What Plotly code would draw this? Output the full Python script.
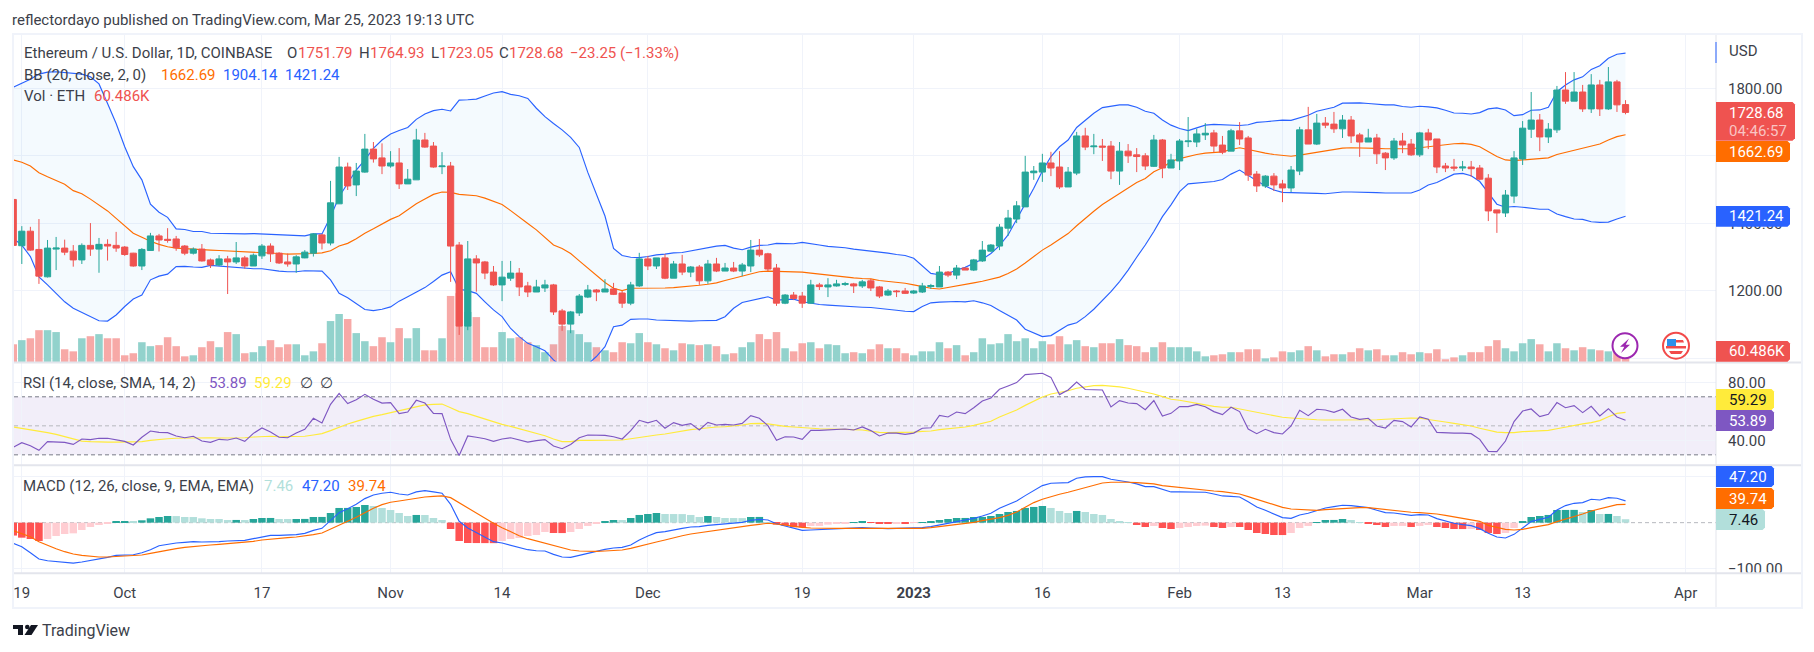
import pandas as pd
import plotly.graph_objects as go

# ---- daily bars, 18 Sep 2022 to 25 Mar 2023 ----
open_px = [
    1471,1334,1377,1323,1242,1324,1327,1318,1292,1335,1324,1338,1335,
    1330,1312,1274,1320,1363,1353,1354,1333,1312,1324,1292,1277,1295,1286,1298,1274,1304,1333,1312,1286,1280,1298,1312,1366,1342,1458,1567,1514,1552,1620,1594,
    1570,1579,1517,1529,1647,1629,1568,1570,1336,1096,1295,1286,1256,1218,1238,1253,1215,1197,1209,1218,1141,1102,1135,1182,1203,1197,1206,1194,1164,1215,
    1295,1274,1298,1238,1280,1256,1271,1230,1280,1259,1268,1259,1274,1321,1310,1268,1164,1188,1185,1164,1218,1212,1215,1219,1221,1215,1230,1212,1188,1200,1200,
    1194,1197,1213,1212,1256,1247,1268,1262,1289,1318,1333,1386,1413,1449,1550,1552,1579,1567,1508,1549,1659,1627,1629,1629,1555,1614,1603,1600,1569,1647,1564,
    1585,1642,1641,1662,1668,1632,1614,1674,1653,1546,1511,1540,1517,1505,1555,1677,1635,1697,1694,1680,1706,1662,1641,1653,1608,1594,1644,1635,
    1603,1668,1650,1570,1567,1564,1567,1564,1534,1440,1431,1481,1591,1679,1706,1656,1677,1795,1762,1789,1739,1810,1739,1819,1751.79]
high_px = [
    1471,1392,1390,1413,1351,1360,1352,1336,1341,1401,1357,1353,1375,
    1333,1313,1327,1372,1369,1386,1363,1336,1329,1339,1296,1306,1304,1345,1304,1311,1339,1341,1315,1311,1306,1321,1371,1369,1526,1597,1580,1579,1665,1641,1637,
    1614,1623,1561,1680,1668,1641,1611,1582,1345,1348,1306,1289,1274,1289,1289,1268,1227,1233,1233,1221,1147,1141,1191,1218,1206,1235,1224,1200,1227,1313,
    1304,1298,1309,1289,1307,1274,1277,1292,1298,1283,1286,1283,1351,1354,1313,1280,1191,1197,1197,1233,1224,1238,1233,1227,1224,1233,1236,1215,1206,1203,1209,
    1203,1224,1221,1274,1259,1277,1269,1295,1348,1339,1398,1440,1466,1600,1570,1606,1612,1614,1567,1671,1683,1665,1650,1644,1641,1635,1623,1608,1662,1650,1606,
    1650,1715,1680,1697,1677,1659,1680,1700,1659,1555,1543,1549,1529,1570,1686,1745,1724,1715,1730,1721,1718,1668,1680,1665,1611,1653,1668,1650,
    1671,1680,1650,1579,1591,1585,1585,1573,1546,1440,1499,1614,1703,1789,1724,1697,1807,1848,1848,1810,1842,1825,1863,1825,1764.93]
low_px = [
    1329,1280,1319,1221,1240,1262,1306,1272,1280,1304,1254,1290,1316,
    1304,1272,1262,1319,1317,1343,1319,1306,1308,1287,1268,1274,1191,1280,1266,1274,1295,1286,1280,1272,1254,1297,1302,1323,1335,1458,1499,1481,1550,1580,1546,
    1565,1502,1517,1529,1624,1565,1546,1227,1070,1084,1198,1235,1215,1170,1230,1185,1182,1197,1197,1129,1082,1075,1126,1179,1170,1197,1188,1150,1158,1212,
    1262,1265,1235,1238,1247,1241,1218,1221,1256,1259,1256,1244,1256,1301,1259,1156,1161,1173,1150,1163,1203,1182,1213,1215,1194,1209,1200,1179,1185,1182,1191,
    1191,1194,1206,1212,1241,1235,1262,1259,1286,1315,1321,1363,1401,1449,1529,1523,1540,1502,1508,1543,1617,1605,1585,1531,1514,1579,1552,1558,1567,1534,1564,
    1558,1626,1626,1647,1611,1605,1614,1632,1526,1493,1505,1496,1463,1493,1543,1635,1632,1682,1668,1653,1638,1597,1641,1576,1558,1588,1608,1600,
    1597,1620,1549,1552,1555,1555,1538,1528,1407,1372,1419,1460,1573,1653,1614,1638,1668,1754,1762,1730,1727,1718,1736,1730,1723.05]
close_px = [
    1335,1377,1321,1244,1327,1327,1315,1292,1335,1324,1338,1333,1327,
    1308,1274,1323,1363,1351,1350,1328,1312,1324,1289,1277,1295,1286,1298,1274,1306,1333,1310,1283,1280,1301,1315,1369,1342,1461,1567,1511,1555,1620,1591,1570,
    1579,1517,1531,1647,1626,1567,1570,1333,1096,1295,1283,1253,1218,1241,1253,1212,1197,1212,1218,1138,1102,1138,1185,1203,1197,1206,1190,1164,1218,1295,
    1274,1298,1238,1280,1256,1271,1230,1280,1259,1268,1259,1277,1321,1307,1265,1164,1188,1178,1164,1218,1213,1218,1221,1222,1215,1227,1209,1185,1200,1198,1193,
    1200,1215,1216,1256,1247,1268,1262,1292,1321,1336,1389,1416,1452,1552,1555,1579,1564,1508,1552,1659,1626,1629,1626,1555,1614,1600,1598,1570,1647,1564,1588,
    1644,1644,1665,1667,1629,1611,1674,1650,1543,1511,1540,1514,1505,1558,1677,1635,1697,1691,1680,1706,1659,1641,1653,1606,1594,1644,1632,1603,
    1668,1647,1567,1564,1564,1567,1562,1531,1437,1431,1484,1594,1682,1706,1656,1679,1795,1762,1789,1739,1810,1739,1819,1751,1728.68]
volume_k = [
    103,127,138,185,185,174,74,62,138,150,162,138,138,
    39,51,115,92,98,144,92,33,39,86,121,86,174,162,51,57,92,127,86,103,103,39,62,109,238,279,250,168,121,92,144,
    115,197,138,197,68,68,138,384,400,291,261,86,86,174,138,144,115,98,57,103,209,185,162,115,86,68,57,115,109,168,
    115,103,80,68,109,103,98,103,92,45,51,86,115,162,133,174,80,62,109,115,80,103,98,51,57,51,74,103,80,80,51,
    39,62,62,115,80,98,39,57,138,103,109,162,121,138,80,121,103,150,103,127,92,86,109,109,133,98,92,57,86,115,86,
    86,86,62,33,39,45,57,57,74,74,21,27,62,57,68,92,68,33,45,45,57,80,68,74,39,39,57,45,
    57,51,74,16,27,39,57,57,92,127,80,62,109,133,103,62,109,80,68,86,74,68,62,57,60.486]

# ---- Bollinger Bands (20, 2) ----
bb_upper = [
    1803,1815,1827,1842,1848,1849,1847,1844,1842,1834,1813,1755,1696,
    1627,1568,1529,1457,1433,1418,1384,1382,1376,1376,1371,1370,1370,1369,1369,1370,1369,1367,1365,1364,1363,1363,1369,1369,1420,1479,1519,1558,1588,1622,1647,
    1665,1675,1684,1708,1724,1734,1738,1733,1765,1766,1768,1777,1786,1790,1782,1778,1770,1741,1716,1696,1677,1655,1625,1551,1484,1422,1326,1305,1300,1299,
    1302,1307,1309,1313,1314,1319,1322,1329,1333,1335,1327,1322,1330,1335,1336,1341,1341,1340,1344,1341,1336,1332,1331,1328,1324,1321,1320,1315,1312,1308,1305,
    1297,1275,1252,1248,1252,1262,1270,1282,1294,1311,1334,1366,1412,1459,1504,1555,1598,1627,1647,1684,1706,1726,1743,1746,1751,1751,1744,1732,1726,1706,1691,
    1681,1675,1683,1691,1693,1692,1691,1690,1692,1699,1701,1704,1706,1705,1713,1720,1732,1737,1744,1756,1757,1757,1755,1752,1751,1751,1746,1744,
    1747,1745,1742,1735,1727,1726,1724,1728,1739,1742,1736,1719,1722,1735,1736,1744,1790,1810,1825,1834,1856,1867,1889,1901,1904.14]
bb_lower = [
    1356,1336,1302,1242,1218,1193,1168,1149,1136,1124,1112,1111,1129,
    1154,1176,1188,1233,1244,1250,1272,1273,1271,1270,1276,1274,1272,1269,1266,1266,1266,1262,1259,1257,1257,1260,1259,1259,1233,1193,1180,1163,1145,1142,1146,
    1153,1170,1183,1196,1210,1228,1247,1257,1205,1201,1193,1168,1144,1124,1089,1065,1045,1035,1023,996,975,967,953,983,1006,1035,1094,1099,1116,1117,
    1117,1114,1113,1112,1111,1111,1112,1112,1113,1124,1149,1166,1172,1178,1183,1173,1175,1176,1168,1163,1160,1158,1156,1155,1153,1152,1151,1149,1146,1143,1140,
    1139,1154,1165,1167,1169,1169,1168,1171,1165,1157,1142,1129,1114,1087,1075,1065,1068,1084,1099,1106,1124,1146,1171,1198,1228,1262,1300,1336,1376,1420,1455,
    1494,1517,1519,1521,1524,1530,1546,1558,1543,1527,1511,1499,1492,1491,1491,1491,1489,1488,1491,1493,1493,1493,1492,1491,1490,1490,1490,1490,
    1499,1514,1521,1533,1546,1548,1541,1524,1489,1457,1448,1450,1448,1444,1442,1442,1428,1420,1413,1412,1405,1403,1404,1413,1421.24]
bb_basis = [
    1588,1581,1570,1550,1538,1528,1516,1497,1488,1472,1454,1437,1415,
    1392,1371,1359,1347,1338,1331,1327,1325,1323,1322,1321,1320,1319,1318,1317,1316,1314,1312,1311,1309,1309,1310,1311,1313,1319,1333,1341,1355,1371,1384,1398,
    1412,1423,1440,1458,1472,1486,1493,1492,1486,1485,1482,1475,1466,1456,1438,1418,1400,1381,1359,1336,1326,1311,1289,1267,1245,1225,1208,1201,1208,1208,
    1207,1208,1209,1210,1212,1213,1217,1220,1224,1231,1237,1244,1251,1257,1259,1258,1258,1258,1256,1253,1250,1246,1244,1242,1239,1237,1236,1231,1229,1226,1223,
    1218,1213,1208,1206,1210,1214,1219,1224,1229,1234,1241,1252,1265,1283,1301,1321,1336,1354,1370,1393,1415,1436,1456,1472,1489,1506,1521,1533,1553,1565,1583,
    1592,1599,1604,1608,1610,1612,1619,1624,1619,1613,1608,1604,1601,1599,1602,1606,1610,1613,1618,1623,1624,1624,1623,1622,1621,1620,1621,1621,
    1624,1629,1632,1634,1636,1637,1634,1627,1612,1598,1588,1586,1588,1590,1591,1594,1604,1610,1617,1622,1629,1635,1647,1657,1662.69]

# ---- RSI (14) with its moving average ----
rsi = [
    35.2,38.4,36.3,33.1,39.1,39.1,38.6,37.2,40.9,40.5,41.4,41.4,40.5,
    39.3,36.8,42.1,46.4,45.5,45.3,43,41.8,42.8,39.5,38.6,40.7,40.2,41.6,39.3,44.8,48.5,45.7,42.1,41.8,45,47.6,55.2,52,64.8,72.4,65.3,68,71.7,68.3,65.7,
    66,58.4,59.5,67.6,65.7,58.6,58.4,40.7,29.6,43,42.1,41.1,39.3,40.9,41.8,40.2,38.8,39.8,40.5,36.1,34.2,37.2,41.8,43.7,43.4,43.4,42.5,40.9,46.7,53.8,
    52,53.8,48.3,52.2,50.3,51.5,47.1,52.4,50.6,51,50.6,51.7,57,55.2,50.1,40,42.5,42.3,40.7,46.9,46.9,47.3,47.8,47.8,47.1,49.2,46.7,43,45,45,44.1,
    45,48.3,48.7,57.2,56.1,59.5,58.4,62.5,67.1,69.2,75.2,77.5,79.8,85.3,85.5,86.2,83.4,71.5,74.7,80.2,75,75,74.7,63,67.4,65.7,65.3,61.1,67.4,56.8,58.6,
    63.2,63.2,64.8,63.2,59.8,57.7,62.8,59.8,47.8,44.6,47.6,45.3,44.4,49.9,60.7,57,61.4,60.9,59.3,61.4,56.1,54.5,55.2,49.9,48.5,53.8,52.9,49.2,
    56.1,54.5,45.5,45,45,45,44.6,40.7,32.4,32.2,39.5,52.9,60.2,61.6,56.3,57.9,66,62.5,63.9,59.1,63.4,56.8,61.8,56.1,53.89]
rsi_ma = [
    49.2,48.3,47.4,46.2,45.3,44.1,42.5,40.7,39.5,39.1,38.8,38.8,38.8,
    38.8,38.6,39.1,40,40.7,41.1,41.4,41.6,41.8,41.8,41.8,41.6,41.6,41.6,41.8,42.3,42.8,42.8,42.5,42.5,42.5,42.8,43.7,44.6,46.7,49.2,51.3,53.1,54.9,56.5,57.7,
    59.1,60.5,61.6,63.2,64.4,64.8,65,62.5,59.8,58.4,56.5,54.5,52.6,51,49.6,48,46.4,44.8,43.2,40.9,39.1,39.1,40,40,40,40.2,40.2,40.2,41.1,42.1,
    42.8,43.7,44.4,45.5,46.4,47.4,48,48.7,49.2,49.4,49.9,50.6,51.5,51.7,51.3,50.3,49.6,49.2,48.7,48.3,48,47.8,47.8,47.6,47.4,47.1,46.2,45.5,45.3,45.3,45.3,
    45.7,46.2,46.4,47.4,48,48.5,49.2,50.3,51.5,53.1,56.1,58.4,60.9,64.1,66.9,69.9,71.9,72.9,74.2,75.9,77,77.7,77.9,77.5,76.8,75.9,74.7,73.3,71.9,70.1,68.3,
    67.6,66.7,65.5,64.4,63.4,62.8,62.8,61.6,60.5,59.3,58.2,56.8,55.9,55.4,54.9,54.5,54.2,54,54,54,54,53.8,54,54.2,54.5,54.9,55.4,55.4,
    55.2,54.5,53.6,52.6,51.7,50.8,49.9,48.3,47.1,45.7,45.3,45.3,46,46.4,46.7,46.9,48,49.2,50.3,51.3,52.2,53.6,56.3,58.6,59.29]

# ---- MACD (12, 26, 9) ----
macd_line = [
    -44.9,-52.2,-65.2,-79,-82.6,-84.1,-85.5,-87.7,-85.5,-82.6,-79,-75.4,-71,
    -69.6,-69.6,-65.2,-58.7,-50,-46.4,-44.2,-42.8,-41.3,-42,-42,-41.3,-39.9,-38.4,-38.4,-34.8,-30.4,-27.5,-27.5,-27.5,-26.1,-23.2,-16.7,-12.3,5.8,21.7,30.4,39.9,52.2,60.1,63.8,
    65.9,62.3,60.1,66.7,69.6,66.7,63.8,39.9,2.9,-11.6,-21.7,-30.4,-41.3,-44.2,-48.5,-53.6,-58.7,-60.9,-61.6,-68.8,-74.6,-75.4,-71,-65.9,-61.6,-58,-55.1,-53.6,-48.5,-37.7,
    -29,-21.7,-19.6,-15.2,-12.3,-9.4,-8.7,-5.8,-4.3,-2.9,-2.2,0.7,5.1,7.2,5.8,-2.2,-7.2,-11.6,-16.7,-15.9,-15.2,-13.8,-12.3,-11.6,-10.9,-10.9,-11.6,-13,-13,-12.3,-12.3,
    -12.3,-10.9,-8.7,-5.1,-0.7,2.9,5.1,9.4,14.5,20.3,31.2,38.4,47.1,58.7,69.6,80.4,85.5,85.5,87,96.4,99.3,100,100,94.2,92,88.4,84.1,78.3,78.3,71.7,66.7,
    66.7,66.7,66.7,65.9,62.3,58,57.2,55.8,45.6,34.1,26.8,18.8,10.9,9.4,16.7,20.3,25.4,31.9,34.8,37.7,37,34.8,32.6,26.8,21.7,21,18.8,15.9,
    17.4,16.7,8.7,3.6,-1.4,-4.3,-6.5,-13,-23.2,-31.2,-33.3,-25.4,-11.6,2.2,7.2,11.6,27.5,37,42,43.5,50.7,49.3,54.3,52.9,47.20]
macd_signal = [
    -17.4,-23.2,-30.4,-41.3,-49.3,-56.5,-63,-68.1,-71,-73.2,-74.6,-74.6,-73.9,
    -73.2,-72.5,-70.3,-66.7,-63,-59.4,-56.5,-53.6,-51.4,-50,-48.5,-47.1,-45.6,-44.2,-42.8,-40.6,-37.7,-35.5,-34.1,-32.6,-31.2,-29,-26.1,-22.5,-14.5,-6.5,2.9,11.6,21.7,31.2,39.1,
    44.2,47.1,50,53.6,55.8,57.2,58,54.3,42.8,31.9,20.3,9.4,-1.4,-10.9,-19.6,-28.3,-34.8,-39.9,-44.2,-50,-55.1,-59.4,-61.6,-62.3,-62.3,-61.6,-60.1,-59.4,-55.8,-50.7,
    -46.4,-42,-37.7,-32.6,-28.3,-24.6,-21.7,-18.8,-15.9,-13.8,-11.6,-8.7,-5.8,-3.6,-1.4,-2.9,-5.8,-8,-10.1,-11.6,-12.3,-13,-12.3,-12.3,-12.3,-12.3,-13,-13.8,-13.8,-13.8,-13.8,
    -13,-12.3,-10.9,-8.7,-6.5,-4.3,-2.2,0.7,4.3,7.2,10.9,15.9,23.2,33.3,43.5,50.7,56.5,61.6,65.9,71,76.8,81.9,86.2,87.7,88.4,87.7,87,85.5,84.1,80.4,78.3,
    76.1,74.6,72.5,71,68.8,67.4,65.2,62.3,56.5,50.7,44.9,39.1,33.3,29.7,28.3,26.8,26.8,28.3,29.7,30.4,31.9,32.6,32.6,30.4,28.3,26.1,23.9,22.5,
    21.7,21,18.8,15.9,13,10.1,7.2,2.9,-5.8,-10.9,-14.5,-15.9,-14.5,-10.9,-7.2,-4.3,2.2,7.2,13,18.8,25.4,29.7,34.8,39.1,39.74]
macd_hist = [
    -28,-32.6,-35.5,-39.9,-35.5,-29,-24.6,-23.2,-15.9,-9.4,-5.1,-1.4,2.9,
    3,2.8,5.1,9.4,12.3,14.5,14.3,12.3,12.2,9.4,8,7.9,5.8,5.9,5.7,8,10.1,10.2,8,7.9,8,8.1,12.3,12.4,21,31.9,32,34,38.4,36.2,31.9,
    27.5,21,14.5,16.7,16.6,10.1,5.8,-13.8,-39.9,-44.2,-44.3,-44.4,-44.5,-39.9,-35.5,-33.3,-29,-26.8,-20.3,-22.5,-22.6,-20.3,-13.8,-7.2,-2.9,2.9,5.8,5.7,10.1,16.7,
    18.8,21,18.8,18.7,18.6,16.7,12.3,14.5,12.3,10.1,10,9.9,12.3,12.4,1.4,-4.3,-6.5,-10.1,-10.2,-7.2,-7.1,-4.3,-2.2,-2.1,1.4,1.5,-0.7,-2.2,-2.3,-1,-2.2,
    -0.7,1.4,3.6,5.8,8,10.1,10.2,12.3,12.4,14.5,18.8,23.2,25.4,31.9,34.1,36.2,31.9,25.4,21,25.4,23.2,18.8,16.7,8,2.9,0.7,-5.1,-9.4,-7.2,-11.6,-13.8,
    -11.6,-9.4,-7.2,-6.5,-9.4,-11.6,-9.4,-9.5,-15.9,-22.5,-24.6,-26.8,-26.9,-22.5,-11.6,-7.2,1.4,5.8,5.9,8,5.8,0.7,-1.4,-5.1,-9.4,-7.2,-7.1,-9.4,
    -7.2,-5.1,-9.4,-11.6,-13.8,-13.9,-13.8,-15.9,-22.5,-24.6,-22.5,-11.6,3.6,12.3,14.5,16.7,27.5,27.6,27.7,23.2,27.5,18.8,18.9,14.5,7.46]

# ---- axis furniture ----
date_ticks = ["2022-09-19","2022-10-01","2022-10-17","2022-11-01","2022-11-14","2022-12-01","2022-12-19",
              "2023-01-01","2023-01-16","2023-02-01","2023-02-13","2023-03-01","2023-03-13","2023-04-01"]
date_labels = ["19","Oct","17","Nov","14","Dec","19","<b>2023</b>","16","Feb","13","Mar","13","Apr"]
price_ticks = [1000,1200,1400,1600,1800]
price_labels = ["","1200.00","1400.00","","1800.00"]
rsi_ticks = [40,80]
rsi_labels = ["40.00","80.00"]
macd_ticks = [-100,100]
macd_labels = ["\u2212100.00",""]

dates = pd.date_range("2022-09-18", "2023-03-25", freq="D")

W, H = 1814, 652
FONT = "Roboto"
INK = "#3c3f4a"
GRID = "#f0f3fa"
EDGE = "#e3e5ec"
UP, DOWN = "#26a69a", "#ef5350"
BLUE, ORANGE = "#2962ff", "#ff6d00"
PURPLE, YELLOW = "#7e57c2", "#ffeb3b"
LW = 1.15

def fx(px):
    return px / W

def fy(px):
    return 1 - px / H

x_range = ["2022-09-18 02:10", "2023-04-04 13:10"]
bar_ms = 7.5 / 8.576 * 86400000

fig = go.Figure()

vol_colors = ["#92d2cc" if c >= o else "#f7a9a7" for o, c in zip(open_px, close_px)]
fig.add_bar(x=dates, y=volume_k, width=bar_ms, marker_color=vol_colors, marker_line_width=0,
            xaxis="x", yaxis="y", hoverinfo="skip")

fig.add_scatter(x=dates, y=bb_upper, mode="lines", line=dict(color=BLUE, width=LW),
                xaxis="x", yaxis="y2", hoverinfo="skip")
fig.add_scatter(x=dates, y=bb_lower, mode="lines", line=dict(color=BLUE, width=LW),
                fill="tonexty", fillcolor="rgba(33,150,243,0.05)",
                xaxis="x", yaxis="y2", hoverinfo="skip")
fig.add_scatter(x=dates, y=bb_basis, mode="lines", line=dict(color=ORANGE, width=LW),
                xaxis="x", yaxis="y2", hoverinfo="skip")

fig.add_candlestick(x=dates, open=open_px, high=high_px, low=low_px, close=close_px,
                    whiskerwidth=0,
                    increasing=dict(line=dict(color=UP, width=1), fillcolor=UP),
                    decreasing=dict(line=dict(color=DOWN, width=1), fillcolor=DOWN),
                    xaxis="x", yaxis="y3", hoverinfo="skip")

fig.add_scatter(x=dates, y=rsi_ma, mode="lines", line=dict(color=YELLOW, width=LW),
                xaxis="x2", yaxis="y4", hoverinfo="skip")
fig.add_scatter(x=dates, y=rsi, mode="lines", line=dict(color=PURPLE, width=LW),
                xaxis="x2", yaxis="y4", hoverinfo="skip")

hist_colors = []
for i, v in enumerate(macd_hist):
    prev = macd_hist[i - 1] if i else v - 1 if v >= 0 else v + 1
    if v >= 0:
        hist_colors.append(UP if v >= prev else "#b2dfdb")
    else:
        hist_colors.append("#ff5252" if v < prev else "#ffcdd2")
fig.add_bar(x=dates, y=macd_hist, width=bar_ms, marker_color=hist_colors, marker_line_width=0,
            xaxis="x3", yaxis="y5", hoverinfo="skip")
fig.add_scatter(x=dates, y=macd_line, mode="lines", line=dict(color=BLUE, width=LW),
                xaxis="x3", yaxis="y5", hoverinfo="skip")
fig.add_scatter(x=dates, y=macd_signal, mode="lines", line=dict(color=ORANGE, width=LW),
                xaxis="x3", yaxis="y5", hoverinfo="skip")

shapes = []
annotations = []

def rect(x0, y0, x1, y1, fill=None, line=None, lw=1, layer="above"):
    shapes.append(dict(type="rect", xref="paper", yref="paper", x0=fx(x0), x1=fx(x1), y0=fy(y0), y1=fy(y1),
                       fillcolor=fill or "rgba(0,0,0,0)", layer=layer,
                       line=dict(color=line or "rgba(0,0,0,0)", width=lw if line else 0)))

def seg(x0, y0, x1, y1, color, lw=1):
    shapes.append(dict(type="line", xref="paper", yref="paper", x0=fx(x0), x1=fx(x1), y0=fy(y0), y1=fy(y1),
                       layer="above", line=dict(color=color, width=lw)))

def poly(points, fill):
    d = "M " + " L ".join(f"{fx(a):.6f},{fy(b):.6f}" for a, b in points) + " Z"
    shapes.append(dict(type="path", xref="paper", yref="paper", path=d, fillcolor=fill, layer="above",
                       line=dict(width=0)))

def disc(cx, cy, r, fill, line=None, lw=0):
    shapes.append(dict(type="circle", xref="paper", yref="paper", x0=fx(cx - r), x1=fx(cx + r),
                       y0=fy(cy + r), y1=fy(cy - r), fillcolor=fill, layer="above",
                       line=dict(color=line or "rgba(0,0,0,0)", width=lw)))

def text(x, y, s, color=INK, size=15, anchor="left", font=FONT):
    annotations.append(dict(xref="paper", yref="paper", x=fx(x), y=fy(y), text=s, showarrow=False,
                            xanchor=anchor, yanchor="middle", borderpad=0, borderwidth=0,
                            font=dict(family=font, size=size, color=color)))

def tag(y0, y1, right, fill, s, color="#ffffff"):
    r = 2.5
    pts = [(1716, y0), (right - r, y0), (right, y0 + r), (right, y1 - r), (right - r, y1), (1716, y1)]
    poly(pts, fill)
    if s:
        text(1729, (y0 + y1) / 2, s, color=color)

# RSI band and the dashed guide levels
shapes.append(dict(type="rect", xref="x2 domain", yref="y4", x0=0, x1=1, y0=30, y1=70, layer="below",
                   fillcolor="rgba(126,87,194,0.1)", line=dict(width=0)))
for lvl, col in [(70, "#787b86"), (30, "#787b86"), (50, "#b6b8be")]:
    shapes.append(dict(type="line", xref="x2 domain", yref="y4", x0=0, x1=1, y0=lvl, y1=lvl, layer="below",
                       line=dict(color=col, width=1, dash="4px,3px")))
shapes.append(dict(type="line", xref="x3 domain", yref="y5", x0=0, x1=1, y0=0, y1=0, layer="below",
                   line=dict(color="#b6b8be", width=1, dash="4px,3px")))

# hides the lower part of the bottom MACD axis label at the pane edge
rect(1717, 574, 1800, 582, fill="#ffffff")

# frame and pane separators
rect(13, 34, 1802, 608, line=GRID, lw=2)
seg(14, 362.5, 1801, 362.5, EDGE, 2)
seg(14, 465.3, 1801, 465.3, EDGE, 2)
seg(14, 573.3, 1801, 573.3, EDGE, 2)
seg(1716, 35, 1716, 607, EDGE, 1)
seg(1716, 42, 1716, 63, BLUE, 1)

# last-value tags on the price scale
tag(102, 140.7, 1795, DOWN, "")
text(1729, 112.7, "1728.68", color="#ffffff")
text(1729, 130.7, "04:46:57", color="#f9c4c3")
tag(141, 162, 1790, ORANGE, "1662.69")
tag(206, 226.7, 1790, BLUE, "1421.24")
tag(341, 361.7, 1790, DOWN, "60.486K")
tag(389, 410, 1774, YELLOW, "59.29", color="#131722")
tag(410, 431, 1774, PURPLE, "53.89")
tag(466, 487, 1774, BLUE, "47.20")
tag(488, 509, 1774, ORANGE, "39.74")
tag(509, 530, 1765, "#b2dfdb", "7.46", color="#131722")
text(1729, 50.7, "USD")

# legend rows
text(12, 20, "reflectordayo published on TradingView.com, Mar 25, 2023 19:13 UTC")
text(23.7, 53, "Ethereum / U.S. Dollar, 1D, COINBASE")
text(287, 53, "O")
text(298, 53, "1751.79", DOWN)
text(358.6, 53, "H")
text(369.7, 53, "1764.93", DOWN)
text(430.5, 53, "L")
text(438.6, 53, "1723.05", DOWN)
text(499.4, 53, "C")
text(509, 53, "1728.68", DOWN)
text(570, 53, "\u221223.25 (\u22121.33%)", DOWN)
text(23.7, 75, "BB (20, close, 2, 0)")
text(160.7, 75, "1662.69", ORANGE)
text(222.7, 75, "1904.14", BLUE)
text(284.7, 75, "1421.24", BLUE)
text(23.7, 96, "Vol \u00b7 ETH")
text(93.8, 96, "60.486K", DOWN)
text(23.4, 382.7, "RSI (14, close, SMA, 14, 2)")
text(208.6, 382.7, "53.89", PURPLE)
text(254, 382.7, "59.29", YELLOW)
text(300, 382.7, "\u2205")
text(319.6, 382.7, "\u2205")
text(23, 486, "MACD (12, 26, close, 9, EMA, EMA)")
text(264, 486, "7.46", "#b2dfdb")
text(302, 486, "47.20", BLUE)
text(348, 486, "39.74", ORANGE)

# footer brand mark
poly([(13, 625), (23, 625), (23, 635), (18, 635), (18, 629), (13, 629)], "#131722")
disc(27.3, 627, 2.3, "#131722")
poly([(31, 625), (38, 625), (31.5, 635), (24.5, 635)], "#131722")
text(42, 630.7, "TradingView", color="#3c3f4a", size=16)

# event markers over the volume pane
disc(1625, 345.7, 12.5, "#ffffff", "#9c27b0", 2)
poly([(1629, 338.5), (1620, 346.7), (1624.3, 346.7), (1621, 353), (1630, 344.7), (1625.7, 344.7)], "#9c27b0")
disc(1676, 345.7, 13, "#ffffff", "#f24a4a", 2)
poly([(1667, 339), (1676, 339), (1676, 346), (1667, 346)], "#2e8fea")
poly([(1676, 340), (1683, 340), (1684, 342.5), (1676, 342.5)], "#f24a4a")
poly([(1666, 346), (1686, 346), (1686, 348.5), (1666, 348.5)], "#f24a4a")
poly([(1669, 351), (1683, 351), (1681, 354), (1671, 354)], "#f24a4a")

tick_font = dict(family=FONT, size=15, color=INK)

def xaxis(anchor, labels=False, **kw):
    return dict(type="date", range=x_range, anchor=anchor, showline=False, zeroline=False,
                tickmode="array", tickvals=date_ticks, ticktext=date_labels, showticklabels=labels,
                showgrid=True, gridcolor=GRID, gridwidth=1, tickfont=tick_font,
                ticks="outside" if labels else "", ticklen=6, tickcolor="rgba(0,0,0,0)",
                rangeslider=dict(visible=False), domain=[fx(14), fx(1716)], fixedrange=True, **kw)

def yaxis_right(domain, rng, ticks, labels, **kw):
    return dict(domain=domain, range=rng, side="right", tickmode="array", tickvals=ticks, ticktext=labels,
                showgrid=True, gridcolor=GRID, gridwidth=1, zeroline=False, showline=False,
                ticks="outside", ticklen=8, tickcolor="rgba(0,0,0,0)", tickfont=tick_font,
                fixedrange=True, **kw)

main_dom = [fy(362), fy(35)]
price_rng = [989.8, 1957.8]

fig.update_layout(
    width=W, height=H, autosize=False, showlegend=False,
    margin=dict(l=0, r=0, t=0, b=0, pad=0, autoexpand=False),
    paper_bgcolor="#ffffff", plot_bgcolor="#ffffff",
    barmode="overlay", boxgap=0.277, boxgroupgap=0,
    font=dict(family=FONT, color=INK),
    shapes=shapes, annotations=annotations,
    xaxis=xaxis("y"),
    xaxis2=xaxis("y4", matches="x"),
    xaxis3=xaxis("y5", labels=True, matches="x"),
    yaxis=dict(domain=main_dom, range=[0, 1901], visible=False, fixedrange=True),
    yaxis2=yaxis_right(main_dom, price_rng, price_ticks, price_labels, overlaying="y", anchor="x"),
    yaxis3=dict(domain=main_dom, range=price_rng, visible=False, overlaying="y", anchor="x", side="right",
                fixedrange=True),
    yaxis4=yaxis_right([fy(465), fy(363)], [23, 93.3], rsi_ticks, rsi_labels, anchor="x2"),
    yaxis5=yaxis_right([fy(573), fy(466)], [-109.3, 123], macd_ticks, macd_labels, anchor="x3"),
)

fig.write_html("out.html", config=dict(displayModeBar=False))
